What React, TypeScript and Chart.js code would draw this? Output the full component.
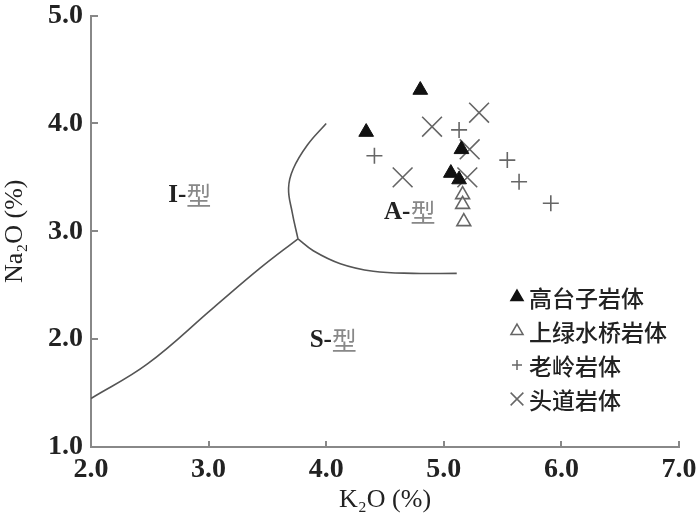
import React, { useEffect, useRef } from 'react';
import { Chart, registerables } from 'chart.js';
import { drawPoint } from 'chart.js/helpers';

Chart.register(...registerables);

// ---- data ----
const xTickValues = [2, 3, 4, 5, 6, 7];
const yTickValues = [1, 2, 3, 4, 5];

const seriesNames = ['高台子岩体', '上绿水桥岩体', '老岭岩体', '头道岩体'];

const gaotaiziK2O = [4.34, 4.80, 5.15, 5.06, 5.13];
const gaotaiziNa2O = [3.92, 4.31, 3.76, 3.54, 3.48];

const shanglvK2O = [5.16, 5.16, 5.17];
const shanglvNa2O = [3.34, 3.25, 3.09];

const laolingK2O = [4.41, 5.13, 5.54, 5.64, 5.91];
const laolingNa2O = [3.70, 3.94, 3.66, 3.46, 3.26];

const toudaoK2O = [4.90, 5.30, 4.65, 5.22, 5.20];
const toudaoNa2O = [3.97, 4.10, 3.50, 3.76, 3.50];

// boundary curves
const lineIS_K2O = [2.0, 2.48, 3.04, 3.44, 3.76];
const lineIS_Na2O = [1.45, 1.77, 2.29, 2.66, 2.93];
const lineIA_K2O = [4.0, 3.84, 3.72, 3.68, 3.71, 3.76];
const lineIA_Na2O = [4.0, 3.80, 3.58, 3.40, 3.18, 2.93];
const lineAS_K2O = [3.76, 3.89, 4.12, 4.40, 4.74, 5.11];
const lineAS_Na2O = [2.93, 2.82, 2.70, 2.63, 2.61, 2.61];

const regionLetters = ['I', 'A', 'S'];
const regionK2O = [2.84, 4.71, 4.06];
const regionNa2O = [3.33, 3.17, 1.99];

const xTitle = 'K₂O (%)';
const yTitle = 'Na₂O (%)';

const toPts = (xs: number[], ys: number[]) => xs.map((x, i) => ({ x, y: ys[i] }));

const lineDs = (xs: number[], ys: number[]) => ({
  type: 'line' as const,
  data: toPts(xs, ys),
  showLine: true,
  borderColor: '#555',
  borderWidth: 1.6,
  pointRadius: 0,
  tension: 0.4,
  fill: false,
  isBoundary: true,
});

const tickPlugin = {
  id: 'innerTicks',
  afterDatasetsDraw(chart: any) {
    const ctx = chart.ctx;
    const xs = chart.scales.x;
    const ys = chart.scales.y;
    const area = chart.chartArea;
    ctx.save();
    ctx.strokeStyle = '#888';
    ctx.lineWidth = 2;
    ctx.beginPath();
    xs.ticks.forEach((t: any) => {
      const px = Math.round(xs.getPixelForValue(t.value));
      ctx.moveTo(px, area.bottom);
      ctx.lineTo(px, area.bottom - 6);
    });
    ys.ticks.forEach((t: any) => {
      const py = Math.round(ys.getPixelForValue(t.value));
      ctx.moveTo(area.left, py);
      ctx.lineTo(area.left + 7, py);
    });
    ctx.stroke();
    ctx.restore();
  },
};

const legendPlugin = {
  id: 'customLegend',
  afterDraw(chart: any) {
    const ctx = chart.ctx;
    const sets = chart.data.datasets.filter((d: any) => !d.isBoundary);
    ctx.save();
    sets.forEach((d: any, i: number) => {
      const cx = 517;
      const cy = 297 + i * 34;
      ctx.fillStyle = d.backgroundColor;
      ctx.strokeStyle = d.borderColor;
      ctx.lineWidth = 1.5;
      drawPoint(ctx, { pointStyle: d.pointStyle, radius: d.legendRadius, borderWidth: 1.5, rotation: 0 } as any, cx, cy);
      ctx.fillStyle = '#222';
      ctx.font = '500 23px "Noto Sans CJK SC"';
      ctx.textAlign = 'left';
      ctx.textBaseline = 'middle';
      ctx.fillText(d.label, 529, cy + 1);
    });
    ctx.restore();
  },
};

const regionPlugin = {
  id: 'regionLabels',
  afterDatasetsDraw(chart: any) {
    const ctx = chart.ctx;
    const xs = chart.scales.x;
    const ys = chart.scales.y;
    ctx.save();
    ctx.textBaseline = 'middle';
    regionLetters.forEach((L, i) => {
      const px = xs.getPixelForValue(regionK2O[i]);
      const py = ys.getPixelForValue(regionNa2O[i]);
      ctx.font = 'bold 25px "Liberation Serif"';
      const a = L + '-';
      const wa = ctx.measureText(a).width;
      ctx.font = '25px "Noto Sans CJK SC"';
      const wb = ctx.measureText('型').width;
      const start = px - (wa + wb) / 2;
      ctx.textAlign = 'left';
      ctx.font = 'bold 25px "Liberation Serif"';
      ctx.fillStyle = '#222';
      ctx.fillText(a, start, py);
      ctx.font = '25px "Noto Sans CJK SC"';
      ctx.fillStyle = '#888';
      ctx.fillText('型', start + wa, py);
    });
    ctx.restore();
  },
};

export default function App() {
  const ref = useRef<HTMLCanvasElement>(null);
  useEffect(() => {
    document.body.style.margin = '0';
    const canvas = ref.current!;
    const chart = new Chart(canvas, {
      type: 'scatter',
      data: {
        datasets: [
          lineDs(lineIS_K2O, lineIS_Na2O),
          lineDs(lineIA_K2O, lineIA_Na2O),
          lineDs(lineAS_K2O, lineAS_Na2O),
          {
            label: seriesNames[0],
            data: toPts(gaotaiziK2O, gaotaiziNa2O),
            pointStyle: 'triangle',
            pointRadius: 8.5,
            backgroundColor: '#111',
            borderColor: '#111',
            borderWidth: 1,
            legendRadius: 7,
          },
          {
            label: seriesNames[1],
            data: toPts(shanglvK2O, shanglvNa2O),
            pointStyle: 'triangle',
            pointRadius: 8,
            backgroundColor: 'rgba(255,255,255,0.6)',
            borderColor: '#666',
            borderWidth: 1.6,
            legendRadius: 7,
          },
          {
            label: seriesNames[2],
            data: toPts(laolingK2O, laolingNa2O),
            pointStyle: 'cross',
            pointRadius: 8,
            backgroundColor: '#666',
            borderColor: '#666',
            borderWidth: 1.6,
            legendRadius: 5,
          },
          {
            label: seriesNames[3],
            data: toPts(toudaoK2O, toudaoNa2O),
            pointStyle: 'crossRot',
            pointRadius: 14,
            backgroundColor: '#666',
            borderColor: '#666',
            borderWidth: 1.6,
            legendRadius: 9,
          },
        ] as any,
      },
      options: {
        animation: false,
        responsive: false,
        devicePixelRatio: 1,
        layout: { padding: { top: 13, right: 21, left: 0, bottom: 0 } },
        plugins: { legend: { display: false }, tooltip: { enabled: false } },
        scales: {
          x: {
            type: 'linear',
            min: 2,
            max: 7,
            afterBuildTicks: (axis: any) => {
              axis.ticks = xTickValues.map((v) => ({ value: v }));
            },
            afterFit: (axis: any) => {
              axis.height = 73;
              axis.paddingLeft = 0;
              axis.paddingRight = 0;
            },
            border: { color: '#888', width: 2 },
            grid: { drawOnChartArea: false, drawTicks: false },
            ticks: {
              padding: 6,
              color: '#222',
              font: { family: '"Liberation Serif"', size: 28, weight: 'bold' },
              callback: (v: any) => Number(v).toFixed(1),
            },
            title: {
              display: true,
              text: xTitle,
              color: '#222',
              font: { family: '"Liberation Serif"', size: 26 },
              padding: { top: 0, bottom: 4 },
            },
          },
          y: {
            type: 'linear',
            min: 1,
            max: 5,
            afterBuildTicks: (axis: any) => {
              axis.ticks = yTickValues.map((v) => ({ value: v }));
            },
            afterFit: (axis: any) => {
              axis.width = 91;
              axis.paddingTop = 0;
              axis.paddingBottom = 0;
            },
            border: { color: '#888', width: 2 },
            grid: { drawOnChartArea: false, drawTicks: false },
            ticks: {
              padding: 8,
              color: '#222',
              font: { family: '"Liberation Serif"', size: 28, weight: 'bold' },
              callback: (v: any) => Number(v).toFixed(1),
            },
            title: {
              display: true,
              text: yTitle,
              color: '#222',
              font: { family: '"Liberation Serif"', size: 26 },
              padding: { top: 0, bottom: 0 },
            },
          },
        },
      } as any,
      plugins: [tickPlugin, regionPlugin, legendPlugin],
    });
    return () => chart.destroy();
  }, []);
  return (
    <div style={{ width: 700, height: 520 }}>
      <canvas ref={ref} width={700} height={520} />
    </div>
  );
}
